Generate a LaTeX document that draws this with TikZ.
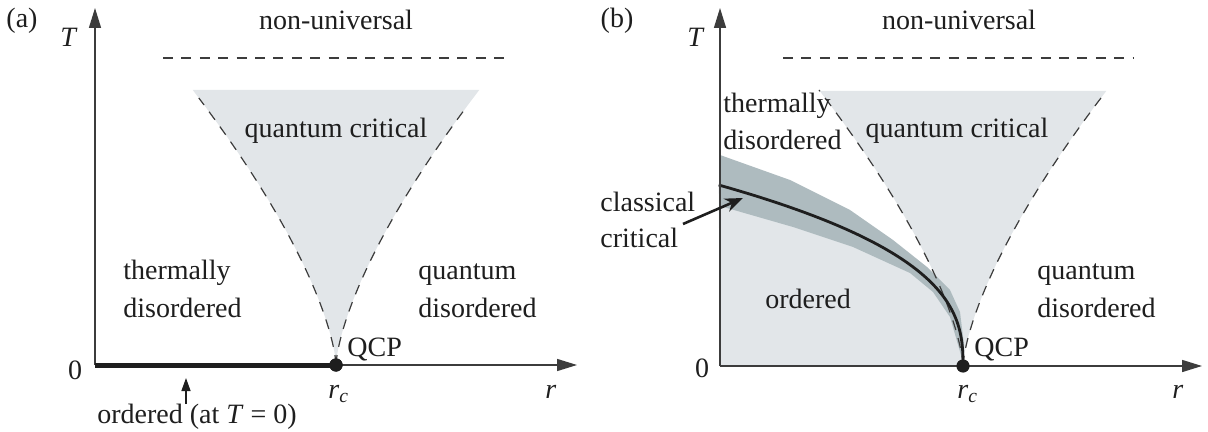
\documentclass[tikz,border=0pt]{standalone}
\usepackage{fontspec}
\setmainfont{Liberation Serif}
\usetikzlibrary{arrows.meta}
\definecolor{qcfill}{RGB}{226,230,233}
\definecolor{bandfill}{RGB}{174,187,191}
\definecolor{axisgray}{RGB}{60,60,60}
\definecolor{ink}{RGB}{30,30,30}
\begin{document}
\begin{tikzpicture}[x=0.5pt,y=-0.5pt,
  lbl/.style={font=\fontsize{14}{17}\selectfont, inner sep=0pt, text=ink},
  axisline/.style={draw=axisgray, line width=0.75pt, -{Triangle[length=10pt,width=6pt]}},
  dsh/.style={draw=axisgray, line width=0.6pt, dash pattern=on 5pt off 4.2pt},
  qcdot/.style={circle, fill=ink, inner sep=0pt, minimum size=6.6pt}]
\useasboundingbox (0,0) rectangle (1208,432);

% ---------------- panel (a) ----------------
\coordinate (oa) at (95,365);
\coordinate (ta) at (95,8);
\coordinate (ra) at (577,365);
\fill[qcfill] (336,365) -- plot[domain=0.01:275,samples=80,variable=\t] ({336-pow(\t/9.4,1.4706)},{365-\t})
  -- plot[domain=275:0.01,samples=80,variable=\t] ({336+pow(\t/9.4,1.4706)},{365-\t}) -- cycle;
\draw[dsh] plot[domain=0.01:267,samples=80,variable=\t] ({336-pow(\t/9.4,1.4706)},{365-\t});
\draw[dsh] plot[domain=0.01:258,samples=80,variable=\t] ({336+pow(\t/9.4,1.4706)},{365-\t});
\coordinate (nua) at (163,58);
\coordinate (nub) at (512,58);
\draw[dsh] (nua) -- (nub);
\draw[axisline] (oa) -- (ta);
\draw[axisline] (oa) -- (ra);
\node[qcdot] (qcpa) at (336,365) {};
\draw[ink, line width=2.5pt] (oa) -- (qcpa.center);
\node[qcdot] at (336,365) {};
\coordinate (oat) at (186,404);
\coordinate (oah) at (186,378);
\draw[ink, line width=0.7pt, -{Triangle[length=6.5pt,width=4.5pt]}] (oat) -- (oah);

\node[lbl] (la) at (22,21) {(a)};
\node[lbl, anchor=base west] (Ta) at (60,47) {\textit{T}};
\node[lbl] (za) at (75,370) {0};
\node[lbl, anchor=base] (nuva) at (336,30) {non-universal};
\node[lbl, anchor=base] (qca) at (336,138) {quantum critical};
\node[lbl, anchor=base west] (tha1) at (123,280) {thermally};
\node[lbl, anchor=base west] (tha2) at (123,317) {disordered};
\node[lbl, anchor=base west] (qda1) at (418,280) {quantum};
\node[lbl, anchor=base west] (qda2) at (418,317) {disordered};
\node[lbl, anchor=base west] (qcpla) at (347,356) {QCP};
\node[lbl, anchor=base west] (rca) at (328,398) {\textit{r}\textsubscript{\textit{c}}};
\node[lbl, anchor=base west] (rla) at (545,398) {\textit{r}};
\node[lbl, anchor=base west] (orda) at (97,423) {ordered (at \textit{T} = 0)};

% ---------------- panel (b) ----------------
\coordinate (ob) at (720,366);
\coordinate (tb) at (720,8);
\coordinate (rb) at (1202,366);
\fill[qcfill] (963,366) -- plot[domain=0.01:275,samples=80,variable=\t] ({963-pow(\t/9.4,1.4706)},{366-\t})
  -- plot[domain=275:0.01,samples=80,variable=\t] ({963+pow(\t/9.4,1.4706)},{366-\t}) -- cycle;
\fill[qcfill] (ob) -- plot[domain=181:0.01,samples=100,variable=\t] ({963-pow(\t/22.4,2.6316)},{366-\t}) -- cycle;
\fill[bandfill] (720,155) -- (790,180) -- (850,210) -- (893,240) -- (927,267) -- (950,290) -- (960,312)
  -- (964,345) -- (963,362) -- (950,317) -- (933,292) -- (910,273) -- (853,247) -- (793,227) -- (720,206) -- cycle;
\draw[dsh] plot[domain=0.01:276,samples=80,variable=\t] ({963-pow(\t/9.4,1.4706)},{366-\t});
\draw[dsh] plot[domain=0.01:274,samples=80,variable=\t] ({963+pow(\t/9.4,1.4706)},{366-\t});
\draw[ink, line width=1.4pt] plot[domain=181:0.01,samples=120,variable=\t] ({963-pow(\t/22.4,2.6316)},{366-\t});
\coordinate (nuc) at (783,58);
\coordinate (nud) at (1133,58);
\draw[dsh] (nuc) -- (nud);
\draw[axisline] (ob) -- (tb);
\draw[axisline] (ob) -- (rb);
\node[qcdot] (qcpb) at (963,366) {};
\coordinate (clt) at (683,224);
\coordinate (clh) at (743,198);
\draw[ink, line width=1.3pt, -{Stealth[length=9pt,width=7pt]}] (clt) -- (clh);

\node[lbl] (lb) at (617,21) {(b)};
\node[lbl, anchor=base west] (Tb) at (687,47) {\textit{T}};
\node[lbl] (zb) at (702,368) {0};
\node[lbl, anchor=base] (nuvb) at (959,30) {non-universal};
\node[lbl, anchor=base] (qcb) at (957,138) {quantum critical};
\node[lbl, anchor=base west] (thb1) at (723,113) {thermally};
\node[lbl, anchor=base west] (thb2) at (723,150) {disordered};
\node[lbl, anchor=base west] (clb1) at (600,212) {classical};
\node[lbl, anchor=base west] (clb2) at (600,248) {critical};
\node[lbl, anchor=base west] (ordb) at (765,308) {ordered};
\node[lbl, anchor=base west] (qdb1) at (1037,280) {quantum};
\node[lbl, anchor=base west] (qdb2) at (1037,317) {disordered};
\node[lbl, anchor=base west] (qcplb) at (974,356) {QCP};
\node[lbl, anchor=base west] (rcb) at (957,398) {\textit{r}\textsubscript{\textit{c}}};
\node[lbl, anchor=base west] (rlb) at (1172,398) {\textit{r}};
\end{tikzpicture}
\end{document}
